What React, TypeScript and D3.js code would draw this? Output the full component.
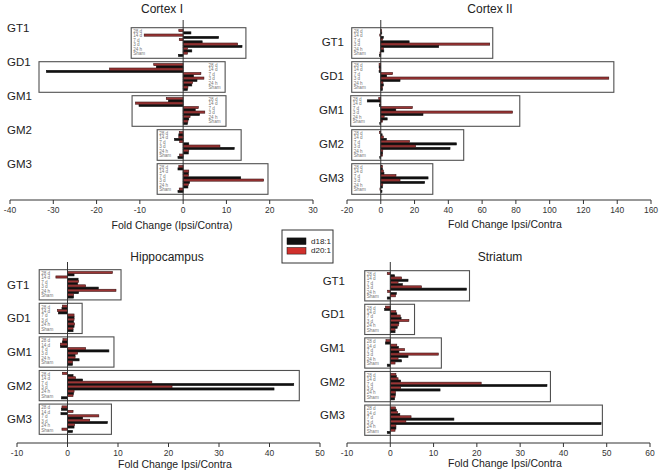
import React from "react";
import * as d3 from "d3";

const groups = ["GT1", "GD1", "GM1", "GM2", "GM3"];
const timepoints = ["28 d", "14 d", "7 d", "3 d", "24 h", "Sham"];
const seriesNames = ["d18:1", "d20:1"];

// rows in each group: 28 d, 14 d, 7 d, 3 d, 24 h, Sham
const cortexI_d18 = [
  [1.8, 8.2, 4.4, 13.6, 2.0, -1.1],
  [-6.2, -31.6, 2.4, 3.2, 2.0, 1.0],
  [-3.4, -10.2, 2.8, 3.8, 1.3, 1.0],
  [-1.0, -2.0, 1.3, 11.8, 1.2, -1.2],
  [-1.2, 1.2, 13.3, 1.5, 1.1, -1.2],
];
const cortexI_d20 = [
  [-1.0, -9.0, -0.9, 12.6, 1.0, 1.0],
  [-6.8, -17.0, 4.1, 4.8, 2.2, 1.1],
  [-3.9, -11.0, 3.5, 5.0, 1.6, 1.1],
  [-0.9, -1.0, -0.8, 8.5, 1.3, -0.8],
  [-1.0, 1.3, 1.2, 18.6, 1.2, -0.9],
];

const cortexII_d18 = [
  [0.6, 1.5, 16.8, 34.3, 1.8, -0.8],
  [-1.0, -1.0, 3.5, 11.4, 1.5, 1.0],
  [-8.0, -0.8, 8.9, 25.0, 3.8, -0.6],
  [0.8, 3.3, 44.8, 41.0, 1.1, -0.6],
  [1.0, 1.9, 28.0, 26.0, 1.0, 0.7],
];
const cortexII_d20 = [
  [0.5, -0.6, 1.0, 64.5, 1.5, -0.5],
  [-1.0, -0.8, 7.0, 135.0, 1.3, 1.0],
  [-1.2, -0.5, 18.7, 78.0, 2.0, 1.0],
  [-0.8, 1.5, 17.0, 20.6, 1.2, 1.0],
  [1.0, 1.5, 9.0, 11.4, 1.2, -0.5],
];

const hippo_d18 = [
  [1.3, 2.1, 2.0, 6.1, 2.2, 1.2],
  [-1.1, -1.8, 1.3, 1.2, 1.3, 1.1],
  [-1.0, -1.4, 8.2, 1.5, 2.3, 1.0],
  [1.1, 3.0, 44.8, 40.9, 1.2, -1.2],
  [-1.2, -1.3, 3.0, 7.9, 1.3, 1.0],
];
const hippo_d20 = [
  [8.9, -2.3, 2.2, 3.6, 9.6, 1.2],
  [-1.0, -2.0, 1.3, 1.3, 1.4, 1.1],
  [-0.9, -1.4, 3.6, 2.0, 1.5, 1.0],
  [-1.0, 1.6, 16.7, 20.7, 1.3, 1.1],
  [-1.1, 1.1, 6.2, 4.4, 1.4, -1.1],
];

const striatum_d18 = [
  [1.0, 4.1, 2.8, 17.6, 1.4, -0.7],
  [-1.3, 1.5, 2.5, 2.0, 1.6, 1.1],
  [-1.1, 1.9, 2.0, 4.1, 2.6, -0.7],
  [1.4, 2.4, 36.2, 11.5, 1.2, 1.0],
  [1.4, 2.2, 14.7, 48.7, 1.3, -0.7],
];
const striatum_d20 = [
  [-0.7, 2.6, 1.8, 7.2, -0.6, 1.2],
  [-1.1, 1.3, 2.3, 4.3, 1.9, 1.1],
  [-1.0, 1.5, 3.3, 11.1, 1.8, 1.1],
  [1.3, 1.8, 21.0, 2.4, 1.2, 1.1],
  [1.2, 1.7, 4.8, 3.6, 1.3, 1.1],
];

const cortexI_ticks = [-40, -30, -20, -10, 0, 10, 20, 30];
const cortexII_ticks = [-20, 0, 20, 40, 60, 80, 100, 120, 140, 160];
const hippo_ticks = [-10, 0, 10, 20, 30, 40, 50];
const striatum_ticks = [-10, 0, 10, 20, 30, 40, 50, 60];

const RED = "#d0302c";
const BAR_RED = "#9c3434";
const FONT = "Liberation Sans, Arial, sans-serif";

const panels = [
  {
    title: "Cortex I", d18: cortexI_d18, d20: cortexI_d20, ticks: cortexI_ticks,
    domain: [-40, 30], xRange: [10, 313], yRange: [26, 196], axisY: 200, lineTop: 20,
    titleX: 162, titleY: 13, axisTitle: "Fold Change (Ipsi/Contra)", axisTitleX: 172, axisTitleY: 229,
    // box extents and row-label anchor, in data units
    boxes: [[-12, 14.5], [-33.3, 9.7], [-11.8, 9.9], [-6, 13.4], [-6, 19.6]],
    labelAt: [-12, 5.4, 5.4, -6, -6],
    groupX: 7, groupAnchor: "start", groupDy: 1,
  },
  {
    title: "Cortex II", d18: cortexII_d18, d20: cortexII_d20, ticks: cortexII_ticks,
    domain: [-20, 160], xRange: [347, 651], yRange: [26, 196], axisY: 200, lineTop: 20,
    titleX: 490, titleY: 13, axisTitle: "Fold Change Ipsi/Contra", axisTitleX: 505, axisTitleY: 228,
    boxes: [[-17.2, 66.3], [-17.2, 138], [-17.8, 82.3], [-17.2, 49.1], [-17.2, 30.8]],
    labelAt: [-17.2, -17.2, -17.8, -17.2, -17.2],
    groupX: 344, groupAnchor: "end", groupDy: 15,
  },
  {
    title: "Hippocampus", d18: hippo_d18, d20: hippo_d20, ticks: hippo_ticks,
    domain: [-10, 50], xRange: [17, 320], yRange: [268, 436], axisY: 443, lineTop: 262,
    titleX: 167, titleY: 261, axisTitle: "Fold Change Ipsi/Contra", axisTitleX: 175, axisTitleY: 468,
    boxes: [[-5.6, 10.6], [-5.6, 2.9], [-5.6, 9.2], [-5.6, 45.9], [-5.6, 8.7]],
    labelAt: [-5.6, -5.6, -5.6, -5.6, -5.6],
    groupX: 7, groupAnchor: "start", groupDy: 16,
  },
  {
    title: "Striatum", d18: striatum_d18, d20: striatum_d20, ticks: striatum_ticks,
    domain: [-10, 60], xRange: [347, 650], yRange: [269, 437], axisY: 443, lineTop: 262,
    titleX: 500, titleY: 261, axisTitle: "Fold Change Ipsi/Contra", axisTitleX: 505, axisTitleY: 467,
    boxes: [[-5.9, 18.3], [-5.9, 5.6], [-5.9, 11.8], [-5.9, 37], [-5.9, 49]],
    labelAt: [-5.9, -5.9, -5.9, -5.9, -5.9],
    groupX: 345, groupAnchor: "end", groupDy: 11,
  },
];

const Panel = ({ p }) => {
  const x = d3.scaleLinear().domain(p.domain).range(p.xRange);
  const yGroup = d3.scaleBand().domain(groups).range(p.yRange).paddingInner(0.1).paddingOuter(0.05);
  const bw = yGroup.bandwidth();
  const yRow = d3.scaleBand().domain(timepoints).range([1.8, bw - 1.8]);
  // red (d20:1) sits above black (d18:1) in each row
  const ySeries = d3.scaleBand().domain(["d20:1", "d18:1"]).range([0, yRow.bandwidth()]).paddingInner(0.05);
  const x0 = x(0);

  return (
    <g>
      <text x={p.titleX} y={p.titleY} textAnchor="middle" fontSize={12} fill="#222">{p.title}</text>
      {groups.map((g, gi) => {
        const gy = yGroup(g);
        const [b0, b1] = p.boxes[gi];
        return (
          <g key={g}>
            <text x={p.groupX} y={gy + p.groupDy} textAnchor={p.groupAnchor} dominantBaseline="middle"
              fontSize={11.5} fill="#222">{g}</text>
            <rect x={x(b0)} y={gy} width={x(b1) - x(b0)} height={bw} fill="white" stroke="#505050" strokeWidth={1.1} />
            {timepoints.map((t) => (
              <text key={t} x={x(p.labelAt[gi]) + 2} y={gy + yRow(t) + yRow.bandwidth() / 2}
                dominantBaseline="middle" fontSize={4.6} fill="#777">{t}</text>
            ))}
            {timepoints.map((t, ti) =>
              seriesNames.map((s) => {
                const v = s === "d18:1" ? p.d18[gi][ti] : p.d20[gi][ti];
                const xv = x(v);
                const black = s === "d18:1";
                return (
                  <rect key={t + s} x={Math.min(x0, xv)} y={gy + yRow(t) + ySeries(s)}
                    width={Math.abs(xv - x0)} height={ySeries.bandwidth()}
                    fill={black ? "#111" : BAR_RED} stroke={black ? "#111" : "#3c1414"} strokeWidth={0.6} />
                );
              })
            )}
          </g>
        );
      })}
      <line x1={x0} x2={x0} y1={p.lineTop} y2={p.axisY} stroke="#333" strokeWidth={1} />
      <line x1={p.xRange[0]} x2={p.xRange[1]} y1={p.axisY} y2={p.axisY} stroke="#333" strokeWidth={1} />
      {p.ticks.map((t) => (
        <g key={t} transform={`translate(${x(t)},${p.axisY})`}>
          <line y2={4} stroke="#333" />
          <text y={13} textAnchor="middle" fontSize={8.5} fill="#333">{t}</text>
        </g>
      ))}
      <text x={p.axisTitleX} y={p.axisTitleY} textAnchor="middle" fontSize={10.5} fill="#222">{p.axisTitle}</text>
    </g>
  );
};

const Legend = () => {
  const y = d3.scaleBand().domain(seriesNames).range([236, 257]).padding(0.2);
  return (
    <g>
      <rect x={282} y={230} width={51} height={33} fill="white" stroke="#333" strokeWidth={1} />
      {seriesNames.map((s) => (
        <g key={s}>
          <rect x={287} y={y(s)} width={19} height={y.bandwidth() - 1} fill={s === "d18:1" ? "#111" : RED} stroke="#111" strokeWidth={0.5} />
          <text x={311} y={y(s) + y.bandwidth() / 2} dominantBaseline="middle" fontSize={8} fill="#222">{s}</text>
        </g>
      ))}
    </g>
  );
};

export default function App() {
  return (
    <svg width={661} height={474} style={{ position: "absolute", left: 0, top: 0, background: "white" }}
      fontFamily={FONT}>
      {panels.map((p) => <Panel key={p.title} p={p} />)}
      <Legend />
    </svg>
  );
}
